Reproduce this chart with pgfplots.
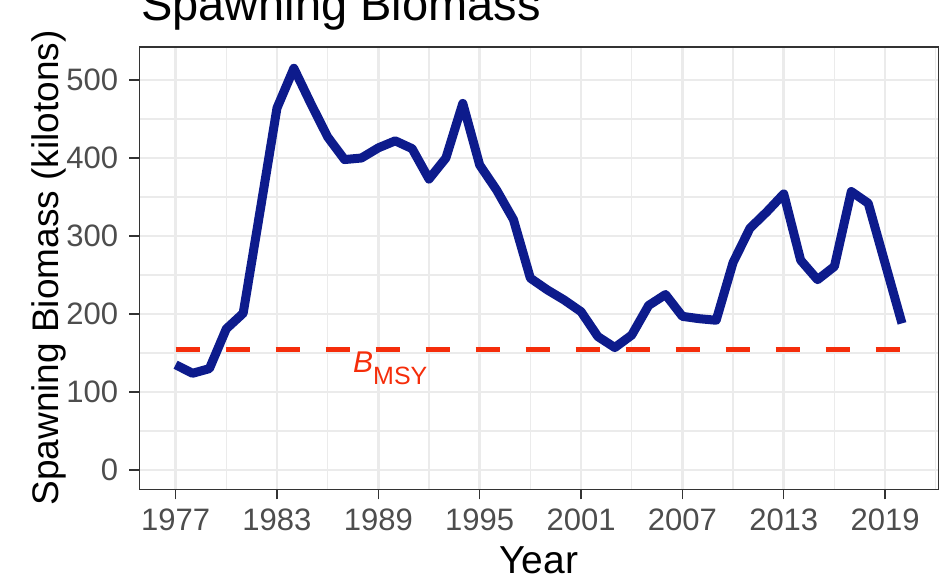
\documentclass[border=0pt]{standalone}
\usepackage{fontspec}
\setmainfont{Liberation Sans}
\usepackage{pgfplots}
\pgfplotsset{compat=1.18}
\definecolor{lineblue}{RGB}{13,27,140}
\definecolor{bred}{RGB}{245,45,10}
\definecolor{gridc}{RGB}{235,235,235}
\definecolor{tickc}{RGB}{77,77,77}
\definecolor{borderc}{RGB}{51,51,51}
\begin{document}
\begin{tikzpicture}[x=1pt,y=1pt]
\useasboundingbox (0,0) rectangle (941,584);
\clip (0,0) rectangle (941,584);
\begin{axis}[
  at={(139.3pt,94.7pt)}, anchor=south west,
  scale only axis, width=799pt, height=442.3pt,
  xmin=1974.85, xmax=2022.15, ymin=-24.7, ymax=542.3,
  xtick={1977,1983,...,2019}, minor xtick={1980,1986,...,2022},
  ytick={0,100,...,500}, minor ytick={50,150,...,450},
  grid=both,
  major grid style={color=gridc, line width=2.6pt},
  minor grid style={color=gridc, line width=1.3pt},
  axis line style={color=borderc, line width=1.3pt},
  tick align=outside, tick pos=left,
  major tick length=10pt, minor tick length=0pt,
  every tick/.style={color=borderc, line width=1.5pt},
  /pgf/number format/assume math mode=true,
  /pgf/number format/1000 sep={},
  tick label style={font=\fontsize{31}{31}\selectfont, color=tickc, inner sep=0pt},
  xticklabel shift=9pt, yticklabel shift=11pt,
  clip=false,
]
\addplot[color=bred, line width=5pt, dash pattern=on 24pt off 26pt] coordinates {(1977,155) (2020,155)};
\addplot[color=lineblue, line width=9pt, line join=round, line cap=butt] coordinates {
(1977,135) (1978,124) (1979,130) (1980,181) (1981,201) (1982,332) (1983,464) (1984,515)
(1985,470) (1986,427) (1987,398) (1988,400) (1989,413) (1990,422) (1991,412) (1992,373)
(1993,400) (1994,470) (1995,391) (1996,359) (1997,321) (1998,246) (1999,231) (2000,218)
(2001,203) (2002,171) (2003,157) (2004,173) (2005,211) (2006,225) (2007,197) (2008,194)
(2009,192) (2010,266) (2011,310) (2012,331) (2013,354) (2014,269) (2015,244) (2016,261)
(2017,357) (2018,342) (2019,265) (2020,188)};
\node[anchor=base west, inner sep=0pt, color=bred] at (axis cs:1987.5,124.4)
  {\fontsize{30}{30}\selectfont\itshape B\upshape\raisebox{-12pt}{\fontsize{25}{25}\selectfont MSY}};
\end{axis}
\node[anchor=base west, inner sep=0pt] at (141,563) {\fontsize{47}{47}\selectfont Spawning Biomass};
\node[anchor=base, inner sep=0pt] at (538.8,11) {\fontsize{39}{39}\selectfont Year};
\node[anchor=base, inner sep=0pt, rotate=90] at (58,316) {\fontsize{37}{37}\selectfont Spawning Biomass (kilotons)};
\end{tikzpicture}
\end{document}
